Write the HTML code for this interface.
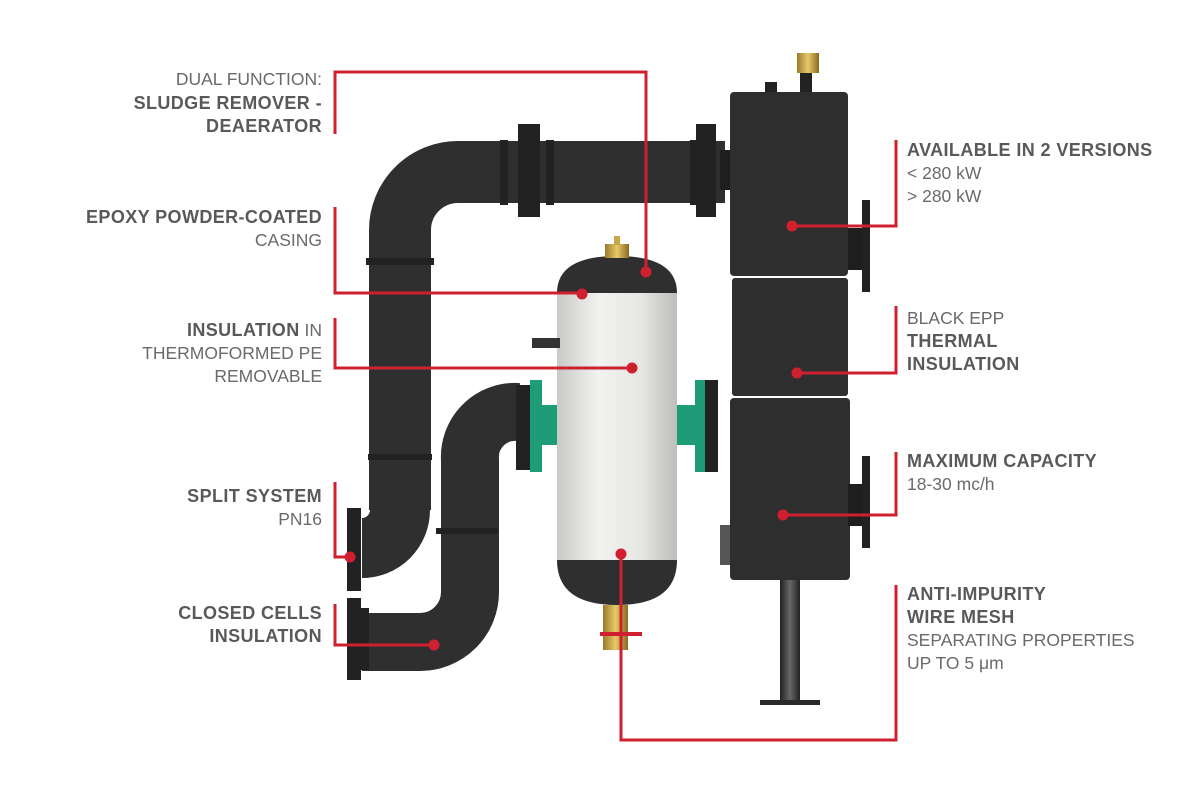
<!DOCTYPE html>
<html><head><meta charset="utf-8"><style>
html,body{margin:0;padding:0;background:#fff;}
svg{display:block;}
text{font-family:"Liberation Sans",sans-serif;font-size:17.5px;fill:#58595b;}
.b{font-weight:bold;font-size:18px;letter-spacing:0.4px;}
.l{fill:#6a6a6a;}
</style></head><body>
<svg width="1200" height="797" viewBox="0 0 1200 797" xmlns="http://www.w3.org/2000/svg">
<defs>
<linearGradient id="tank" x1="0" x2="1" y1="0" y2="0">
<stop offset="0" stop-color="#c9c9c5"/><stop offset="0.35" stop-color="#f2f2ee"/><stop offset="0.7" stop-color="#e6e6e2"/><stop offset="1" stop-color="#bdbdb9"/></linearGradient>
<linearGradient id="brass" x1="0" x2="1"><stop offset="0" stop-color="#9a7a2a"/><stop offset="0.5" stop-color="#e8c96a"/><stop offset="1" stop-color="#8a6a20"/></linearGradient>
<linearGradient id="leg" x1="0" x2="1"><stop offset="0" stop-color="#222"/><stop offset="0.5" stop-color="#666"/><stop offset="1" stop-color="#222"/></linearGradient>
</defs>
<!-- pipes -->
<g fill="none" stroke="#2f2f2f" stroke-linecap="butt">
<path d="M400 510 V230 A58 58 0 0 1 458 172 H725" stroke-width="62"/>
<path d="M400 500 V510 A38 38 0 0 1 362 548" stroke-width="60"/>
<path d="M362 642 H420 A50 50 0 0 0 470 592 V460 A45 45 0 0 1 518 412" stroke-width="58"/>
</g>
<g fill="#222">
<rect x="366" y="258" width="68" height="7"/><rect x="368" y="454" width="64" height="6"/>
<rect x="436" y="528" width="62" height="6"/>
<rect x="500" y="140" width="8" height="65"/><rect x="546" y="140" width="8" height="65"/>
<rect x="518" y="124" width="22" height="93"/>
<rect x="690" y="140" width="8" height="65"/>
<rect x="696" y="124" width="20" height="93"/>
<rect x="347" y="508" width="14" height="83"/>
<rect x="347" y="598" width="14" height="82"/><rect x="361" y="608" width="8" height="62"/>
<rect x="516" y="385" width="14" height="85"/><rect x="704" y="380" width="14" height="92"/>
</g>
<g fill="#1e9c78">
<rect x="530" y="380" width="12" height="92"/><rect x="542" y="405" width="18" height="40"/>
<rect x="677" y="405" width="18" height="40"/><rect x="695" y="380" width="10" height="92"/>
</g>
<!-- tank -->
<path d="M557 293 Q557 256 617 256 Q677 256 677 293 Z" fill="#2f2f2f"/>
<rect x="557" y="293" width="120" height="267" fill="url(#tank)"/>
<path d="M557 560 H677 Q677 605 617 605 Q557 605 557 560 Z" fill="#2f2f2f"/>
<rect x="605" y="244" width="24" height="14" fill="url(#brass)"/>
<rect x="614" y="236" width="6" height="9" fill="#c9a84a"/>
<rect x="603" y="605" width="25" height="45" fill="url(#brass)"/>
<rect x="532" y="338" width="28" height="10" fill="#333"/>
<!-- right column -->
<rect x="765" y="82" width="12" height="12" fill="#222"/>
<rect x="800" y="70" width="12" height="24" fill="#222"/>
<rect x="797" y="53" width="22" height="20" fill="url(#brass)"/>
<rect x="720" y="150" width="12" height="40" fill="#1e1e1e"/>
<rect x="730" y="92" width="118" height="184" rx="4" fill="#2e2e2e"/>
<rect x="732" y="278" width="116" height="118" rx="3" fill="#2e2e2e"/>
<rect x="730" y="398" width="120" height="182" rx="4" fill="#2e2e2e"/>
<rect x="720" y="525" width="10" height="40" fill="#555"/>
<rect x="848" y="228" width="16" height="42" fill="#1e1e1e"/><rect x="862" y="200" width="8" height="92" fill="#222"/>
<rect x="848" y="484" width="16" height="42" fill="#1e1e1e"/><rect x="862" y="456" width="8" height="92" fill="#222"/>
<rect x="780" y="580" width="20" height="122" fill="url(#leg)"/>
<rect x="760" y="700" width="60" height="5" fill="#2a2a2a"/>
<!-- callout lines -->
<g fill="none" stroke="#d0202f" stroke-width="3">
<path d="M335 134 V72 H646 V272"/>
<path d="M335 207 V293 H582"/>
<path d="M335 318 V368 H632"/>
<path d="M335 482 V557 H350"/>
<path d="M335 604 V645 H434"/>
<path d="M792 226 H896 V140"/>
<path d="M797 373 H896 V306"/>
<path d="M783 515 H896 V452"/>
<path d="M621 554 V740 H896 V585"/>
<path d="M600 634 H642" stroke-width="4"/>
</g>
<g fill="#d0202f">
<circle cx="646" cy="272" r="5.5"/><circle cx="582" cy="294" r="5.5"/><circle cx="632" cy="368" r="5.5"/>
<circle cx="350" cy="557" r="5.5"/><circle cx="434" cy="645" r="5.5"/>
<circle cx="792" cy="226" r="5.5"/><circle cx="797" cy="373" r="5.5"/><circle cx="783" cy="515" r="5.5"/>
<circle cx="621" cy="554" r="5.5"/>
</g>
<!-- labels left -->
<g text-anchor="end">
<text x="322" y="85" class="l">DUAL FUNCTION:</text>
<text x="322" y="109" class="b">SLUDGE REMOVER -</text>
<text x="322" y="132" class="b">DEAERATOR</text>
<text x="322" y="223" class="b">EPOXY POWDER-COATED</text>
<text x="322" y="246" class="l">CASING</text>
<text x="322" y="336"><tspan class="b">INSULATION</tspan><tspan class="l"> IN</tspan></text>
<text x="322" y="359" class="l">THERMOFORMED PE</text>
<text x="322" y="382" class="l">REMOVABLE</text>
<text x="322" y="502" class="b">SPLIT SYSTEM</text>
<text x="322" y="525" class="l">PN16</text>
<text x="322" y="619" class="b">CLOSED CELLS</text>
<text x="322" y="642" class="b">INSULATION</text>
</g>
<!-- labels right -->
<text x="907" y="156" class="b">AVAILABLE IN 2 VERSIONS</text>
<text x="907" y="179" class="l">&lt; 280 kW</text>
<text x="907" y="202" class="l">&gt; 280 kW</text>
<text x="907" y="324" class="l">BLACK EPP</text>
<text x="907" y="347" class="b">THERMAL</text>
<text x="907" y="370" class="b">INSULATION</text>
<text x="907" y="467" class="b">MAXIMUM CAPACITY</text>
<text x="907" y="490" class="l">18-30 mc/h</text>
<text x="907" y="600" class="b">ANTI-IMPURITY</text>
<text x="907" y="623" class="b">WIRE MESH</text>
<text x="907" y="646" class="l">SEPARATING PROPERTIES</text>
<text x="907" y="669" class="l">UP TO 5 μm</text>
</svg>
</body></html>
